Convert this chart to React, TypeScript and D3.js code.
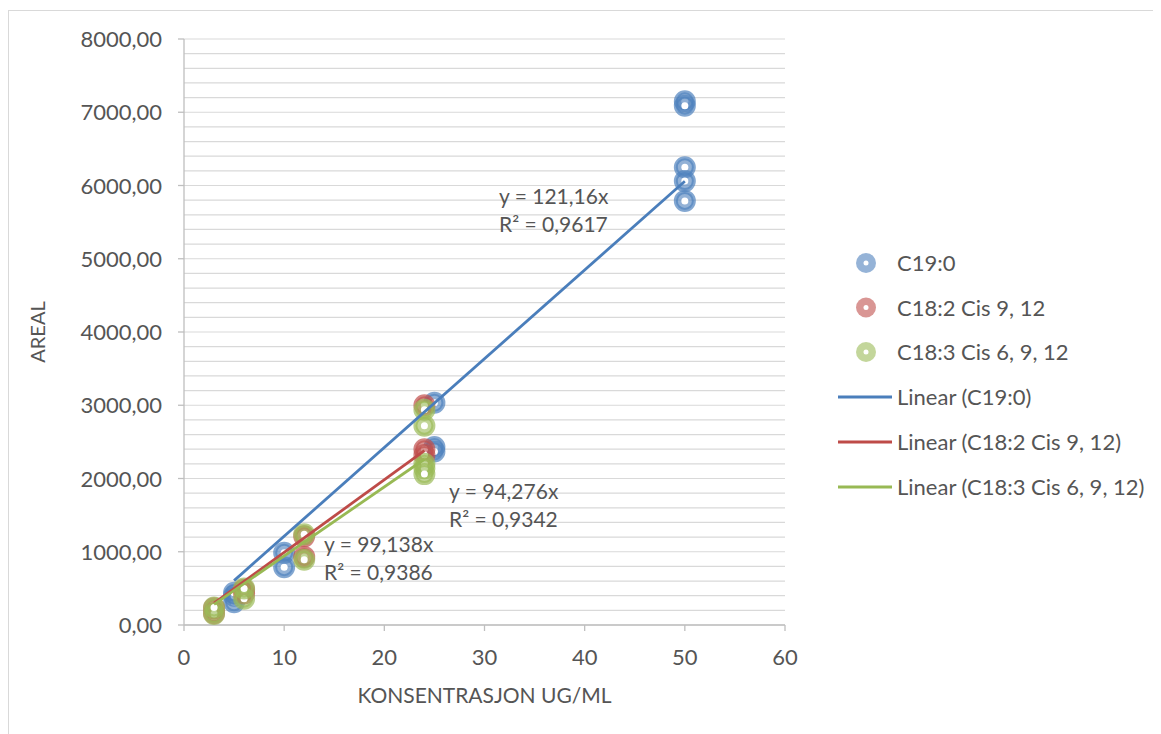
import React from "react";
import * as d3 from "d3";

// ---- data ----
const seriesNames = ["C19:0", "C18:2 Cis 9, 12", "C18:3 Cis 6, 9, 12"];
const c19X = [5, 5, 5, 10, 10, 25, 25, 25, 50, 50, 50, 50, 50];
const c19Y = [310, 400, 440, 790, 985, 3035, 2430, 2370, 7150, 7090, 6250, 6060, 5790];
const c182X = [3, 3, 6, 6, 12, 12, 24, 24, 24];
const c182Y = [160, 230, 430, 480, 930, 1210, 3000, 2400, 2320];
const c183X = [3, 3, 6, 6, 12, 12, 24, 24, 24, 24, 24];
const c183Y = [150, 240, 360, 500, 890, 1240, 2940, 2720, 2200, 2140, 2060];
const trendSlopes = [121.16, 99.138, 94.276];
const trendLabels = ["y = 121,16x", "y = 99,138x", "y = 94,276x"];
const r2Labels = ["R² = 0,9617", "R² = 0,9386", "R² = 0,9342"];
const xTicks = [0, 10, 20, 30, 40, 50, 60];
const yTicks = [0, 1000, 2000, 3000, 4000, 5000, 6000, 7000, 8000];
const xTitle = "KONSENTRASJON UG/ML";
const yTitle = "AREAL";

const lineColors = ["#4a7ebb", "#be4b48", "#98b954"];
const markColors = ["#4f81bd", "#c0504d", "#9bbb59"];
const FONT = "Lato, 'Open Sans', sans-serif";
const TXT = "#555555";

const seriesX = [c19X, c182X, c183X];
const seriesY = [c19Y, c182Y, c183Y];

const locale = d3.formatLocale({ decimal: ",", thousands: " ", grouping: [3], currency: ["", ""] });
const fmtY = locale.format(".2f");

export default function App() {
  const x = d3.scaleLinear().domain([0, 60]).range([184, 785]);
  const y = d3.scaleLinear().domain([0, 8000]).range([625, 39]);
  const minor = d3.range(0, 8001, 200);

  const labelPos = [
    { lx: 499, ly: 204 },
    { lx: 324, ly: 552 },
    { lx: 449, ly: 499 },
  ];

  const line = d3
    .line<[number, number]>()
    .x((d) => x(d[0]))
    .y((d) => y(d[1]));

  return (
    <svg width={1153} height={726} style={{ display: "block" }}>
      <g transform="translate(-8,-8)">
        <rect x={8.5} y={10.5} width={1300} height={900} fill="#fff" stroke="#d9d9d9" strokeWidth={1} />
        {minor.map((v) => (
          <line key={"g" + v} x1={x(0)} x2={x(60)} y1={y(v)} y2={y(v)} stroke="#d9d9d9" strokeWidth={1.2} />
        ))}
        <line x1={x(0)} x2={x(0)} y1={y(0)} y2={y(8000)} stroke="#bfbfbf" strokeWidth={1.3} />
        <line x1={x(0)} x2={x(60)} y1={y(0)} y2={y(0)} stroke="#bfbfbf" strokeWidth={1.3} />
        {yTicks.map((v) => (
          <g key={"yt" + v}>
            <line x1={x(0) - 6} x2={x(0)} y1={y(v)} y2={y(v)} stroke="#bfbfbf" strokeWidth={1.3} />
            <text x={162} y={y(v) + 8} textAnchor="end" fontFamily={FONT} fontSize={22} fill={TXT}>
              {fmtY(v)}
            </text>
          </g>
        ))}
        {xTicks.map((v) => (
          <g key={"xt" + v}>
            <line x1={x(v)} x2={x(v)} y1={y(0)} y2={y(0) + 6} stroke="#bfbfbf" strokeWidth={1.3} />
            <text x={x(v)} y={665} textAnchor="middle" fontFamily={FONT} fontSize={22} fill={TXT}>
              {v}
            </text>
          </g>
        ))}
        <text
          x={(x(0) + x(60)) / 2}
          y={703}
          textAnchor="middle"
          fontFamily={FONT}
          fontSize={21}
          fill={TXT}
        >
          {xTitle}
        </text>
        <text
          transform={`translate(45,${(y(0) + y(8000)) / 2}) rotate(-90)`}
          textAnchor="middle"
          fontFamily={FONT}
          fontSize={20}
          fill={TXT}
        >
          {yTitle}
        </text>

        {seriesX.map((xs, si) =>
          xs.map((xv, i) => (
            <g key={`m${si}-${i}`}>
              <circle
                cx={x(xv)}
                cy={y(seriesY[si][i])}
                r={9}
                fill={markColors[si]}
                fillOpacity={0.62}
                stroke={markColors[si]}
                strokeOpacity={0.7}
                strokeWidth={4}
              />
              <circle cx={x(xv)} cy={y(seriesY[si][i])} r={3.5} fill="#fff" />
            </g>
          ))
        )}

        {seriesX.map((xs, si) => {
          const [x0, x1] = d3.extent(xs) as [number, number];
          const pts: [number, number][] = [
            [x0, trendSlopes[si] * x0],
            [x1, trendSlopes[si] * x1],
          ];
          return <path key={"tl" + si} d={line(pts) || ""} stroke={lineColors[si]} strokeWidth={2.8} fill="none" />;
        })}

        {labelPos.map((p, si) => (
          <g key={"lab" + si} fontFamily={FONT} fontSize={21} fill={TXT}>
            <text x={p.lx} y={p.ly}>{trendLabels[si]}</text>
            <text x={p.lx} y={p.ly + 28}>{r2Labels[si]}</text>
          </g>
        ))}

        {seriesNames.map((n, si) => {
          const cy = 263 + si * 44.5;
          return (
            <g key={"lg" + si}>
              <circle cx={866} cy={cy} r={10} fill={markColors[si]} fillOpacity={0.6} />
              <circle cx={866} cy={cy} r={2.5} fill="#fff" />
              <text x={897} y={cy + 8} fontFamily={FONT} fontSize={22} fill={TXT}>
                {n}
              </text>
            </g>
          );
        })}
        {seriesNames.map((n, si) => {
          const cy = 397 + si * 45;
          return (
            <g key={"ll" + si}>
              <line x1={838} x2={892} y1={cy} y2={cy} stroke={lineColors[si]} strokeWidth={3} />
              <text x={897} y={cy + 8} fontFamily={FONT} fontSize={22} fill={TXT}>
                {`Linear (${n})`}
              </text>
            </g>
          );
        })}
      </g>
    </svg>
  );
}
